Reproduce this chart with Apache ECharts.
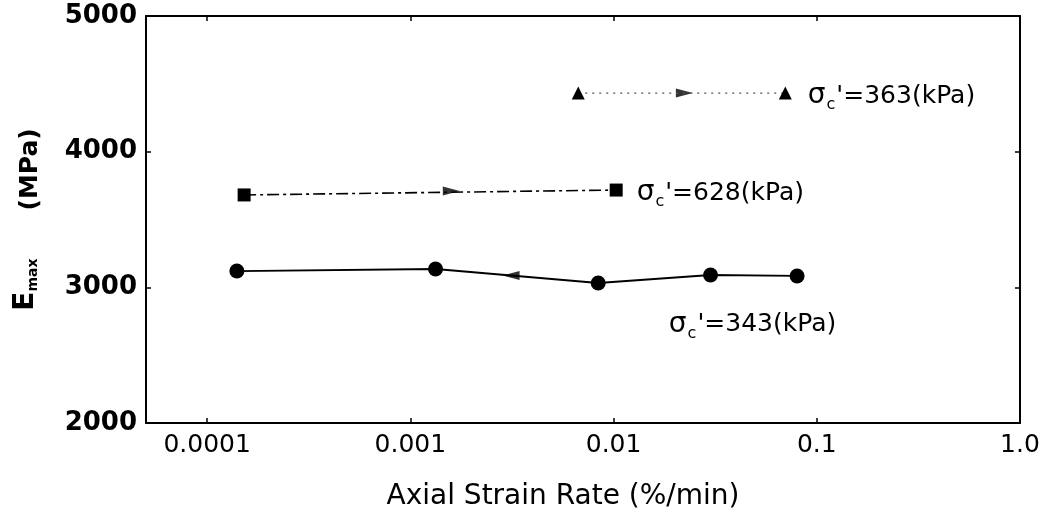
<!DOCTYPE html>
<html><head><meta charset="utf-8">
<script src="https://cdn.jsdelivr.net/npm/echarts@6/dist/echarts.min.js"></script>
<style>html,body{margin:0;padding:0;background:#fff}#c{width:1041px;height:512px}</style>
</head><body><div id="c"></div>
<script>
// ---- data ----
const xTickValues = [0.0001, 0.001, 0.01, 0.1, 1];
const xTickLabels = ['0.0001', '0.001', '0.01', '0.1', '1.0'];
const rate343 = [1.40e-4, 1.33e-3, 8.4e-3, 0.030, 0.080];
const emax343 = [3120, 3135, 3032, 3091, 3084];
const rate628 = [1.52e-4, 0.0103];
const emax628 = [3681, 3717];
const rate363 = [0.0067, 0.070];
const emax363 = [4432, 4432];
// direction arrows drawn on the lines
const arrowRate = [3.13e-3, 1.59e-3, 0.0223];
const arrowEmax = [3087, 3710, 4432];
const arrowRot = [90, -90, -90];
const seriesNames = ['343', '628', '363'];

const F = 'DejaVu Sans';
function fmtX(v) {
  for (let i = 0; i < xTickValues.length; i++) {
    if (Math.abs(Math.log10(v) - Math.log10(xTickValues[i])) < 1e-6) return xTickLabels[i];
  }
  return '';
}
const labelRich = {
  s: {fontFamily: F, fontSize: 28, color: '#000'},
  c: {fontFamily: F, fontSize: 16, color: '#000', padding: [18, 1, 0, 1]},
  t: {fontFamily: F, fontSize: 25, color: '#000'}
};
function sigLabel(k) { return '{s|σ}{c|c}{t|\'=' + k + '(kPa)}'; }
function pts(xs, ys) { return xs.map((x, i) => [x, ys[i]]); }

const d343 = pts(rate343, emax343);
d343[3] = {value: d343[3], label: {show: true, position: 'bottom', offset: [42, 20],
  formatter: sigLabel(seriesNames[0]), rich: labelRich}};
const d628 = pts(rate628, emax628);
d628[1] = {value: d628[1], label: {show: true, position: 'right', distance: 14, offset: [0, 3],
  formatter: sigLabel(seriesNames[1]), rich: labelRich}};
const d363 = pts(rate363, emax363);
d363[1] = {value: d363[1], label: {show: true, position: 'right', distance: 16, offset: [0, 3],
  formatter: sigLabel(seriesNames[2]), rich: labelRich}};

const axisCommonX = {
  type: 'log', logBase: 10, min: 0.00005, max: 1,
  axisLine: {show: true, onZero: false, lineStyle: {color: '#000', width: 2}},
  axisTick: {show: true, inside: true, length: 5, lineStyle: {color: '#000', width: 1.5}},
  splitLine: {show: false}
};
const axisCommonY = {
  type: 'value', min: 2000, max: 5000, interval: 1000,
  axisLine: {show: true, onZero: false, lineStyle: {color: '#000', width: 2}},
  axisTick: {show: true, inside: true, length: 5, lineStyle: {color: '#000', width: 1.5}},
  splitLine: {show: false}
};

const chart = echarts.init(document.getElementById('c'), null, {renderer: 'canvas'});
chart.setOption({
  backgroundColor: '#fff',
  animation: false,
  grid: {left: 146, right: 21, top: 16, bottom: 89, containLabel: false, outerBoundsMode: 'none'},
  xAxis: [
    Object.assign({}, axisCommonX, {
      position: 'bottom',
      name: 'Axial Strain Rate (%/min)', nameLocation: 'middle', nameGap: 60,
      nameTextStyle: {fontFamily: F, fontSize: 28, color: '#000', padding: [0, 40, 0, 0]},
      axisLabel: {formatter: fmtX, fontFamily: F, fontSize: 25, color: '#000', margin: 10,
        showMinLabel: true, showMaxLabel: true}
    }),
    Object.assign({}, axisCommonX, {position: 'top', axisLabel: {show: false}})
  ],
  yAxis: [
    Object.assign({}, axisCommonY, {
      position: 'left',
      name: '{e|E}{m|max}{sp|}{p|(MPa)}', nameLocation: 'middle', nameGap: 103, nameRotate: 90,
      nameTextStyle: {rich: {
        e: {fontFamily: F, fontWeight: 'bold', fontSize: 28, color: '#000'},
        m: {fontFamily: F, fontWeight: 'bold', fontSize: 14, color: '#000', padding: [16, 0, 0, 0]},
        sp: {width: 48},
        p: {fontFamily: F, fontWeight: 'bold', fontSize: 25, color: '#000', padding: [10, 0, 0, 0]}
      }},
      axisLabel: {formatter: v => String(v), fontFamily: F, fontWeight: 'bold', fontSize: 26,
        color: '#000', margin: 9}
    }),
    Object.assign({}, axisCommonY, {position: 'right', axisLabel: {show: false}})
  ],
  series: [
    {name: seriesNames[0], type: 'line', data: d343, symbol: 'circle', symbolSize: 15,
      itemStyle: {color: '#000'}, lineStyle: {color: '#000', width: 1.8}},
    {name: seriesNames[1], type: 'line', data: d628, symbol: 'rect', symbolSize: 13,
      itemStyle: {color: '#000'}, lineStyle: {color: '#000', width: 1.6, type: [12, 4, 3, 4]}},
    {name: seriesNames[2], type: 'line', data: d363, symbol: 'triangle', symbolSize: 13,
      itemStyle: {color: '#000'}, lineStyle: {color: '#555', width: 1.3, type: [2, 5]}},
    {name: 'arrows', type: 'scatter',
      data: arrowRate.map((x, i) => ({value: [x, arrowEmax[i]], symbolRotate: arrowRot[i]})),
      symbol: 'triangle', symbolSize: [9, 17], itemStyle: {color: '#000'}}
  ]
});
</script></body></html>
